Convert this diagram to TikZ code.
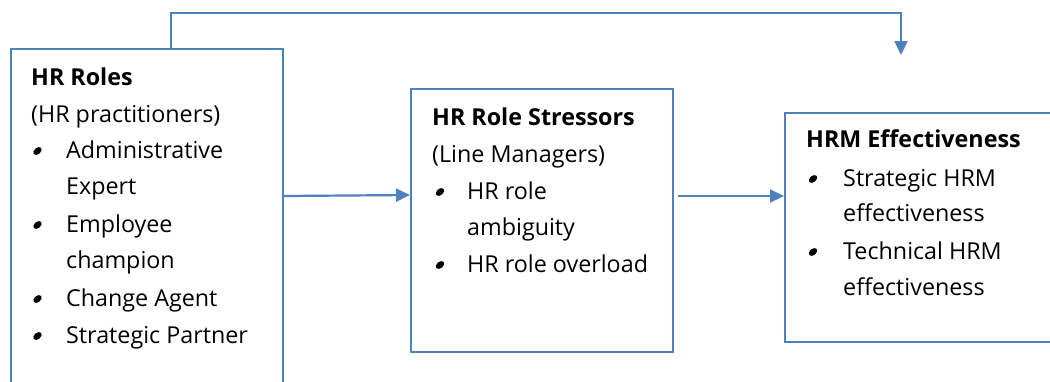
\documentclass[tikz,border=0pt]{standalone}
\usepackage{fontspec}
\setmainfont{Open Sans}
\usetikzlibrary{arrows.meta}
\definecolor{boxblue}{HTML}{4F81BD}
\tikzset{
  box/.style={draw=boxblue, line width=2.2pt, inner sep=0pt, anchor=north west},
  arr/.style={draw=boxblue, line width=2.2pt, -{Triangle[length=14pt,width=13pt]}},
  txt/.style={anchor=base west, inner sep=0pt, font=\fontsize{23.3}{28}\selectfont},
  ttl/.style={txt, font=\fontsize{23.3}{28}\selectfont\bfseries},
  bul/.style={fill=black}
}
\newcommand{\bulat}[2]{\fill[bul, shift={(#1,#2-7)}, rotate=40] (0,0) ellipse[x radius=4.8pt, y radius=3.2pt];}
\begin{document}
\begin{tikzpicture}[x=1pt,y=-1pt]
\useasboundingbox (0,0) rectangle (1050,381);
\clip (0,0) rectangle (1050,381);
% boxes
\node[box, minimum width=272pt, minimum height=350pt] (b1) at (10,48) {};
\node[box, minimum width=262pt, minimum height=263pt] (b2) at (410,88) {};
\node[box, minimum width=280pt, minimum height=229pt] (b3) at (784,112) {};
% box 1 text
\node[ttl] (t1) at (31,85) {HR Roles};
\node[txt] (s1) at (31,122) {(HR practitioners)};
\node[txt] (a1) at (66,158) {Administrative};
\node[txt] (a2) at (66,194) {Expert};
\node[txt] (a3) at (66,232) {Employee};
\node[txt] (a4) at (66,268) {champion};
\node[txt] (a5) at (66,306) {Change Agent};
\node[txt] (a6) at (66,343) {Strategic Partner};
\foreach \y in {158,232,306,343} {\bulat{37.5}{\y}}
% box 2 text
\node[ttl] (t2) at (432,125) {HR Role Stressors};
\node[txt] (s2) at (432,162) {(Line Managers)};
\node[txt] (c1) at (467,199) {HR role};
\node[txt] (c2) at (467,235) {ambiguity};
\node[txt] (c3) at (467,272) {HR role overload};
\foreach \y in {199,272} {\bulat{440}{\y}}
% box 3 text
\node[ttl] (t3) at (806,147) {HRM Effectiveness};
\node[txt] (d1) at (843,186) {Strategic HRM};
\node[txt] (d2) at (843,221) {effectiveness};
\node[txt] (d3) at (843,259) {Technical HRM};
\node[txt] (d4) at (843,295) {effectiveness};
\foreach \y in {186,259} {\bulat{813}{\y}}
% connectors
\coordinate (fbstart) at (b1.north -| 171,0);
\coordinate (fbend) at (901,55);
\draw[arr] (b1.east |- 0,196) -- (b2.west |- 0,195);
\draw[arr] ([xshift=4pt]b2.east |- 0,196) -- (b3.west |- 0,196);
\draw[arr] (fbstart) -- (171,13) -- (901,13) -- (fbend);
\end{tikzpicture}
\end{document}
